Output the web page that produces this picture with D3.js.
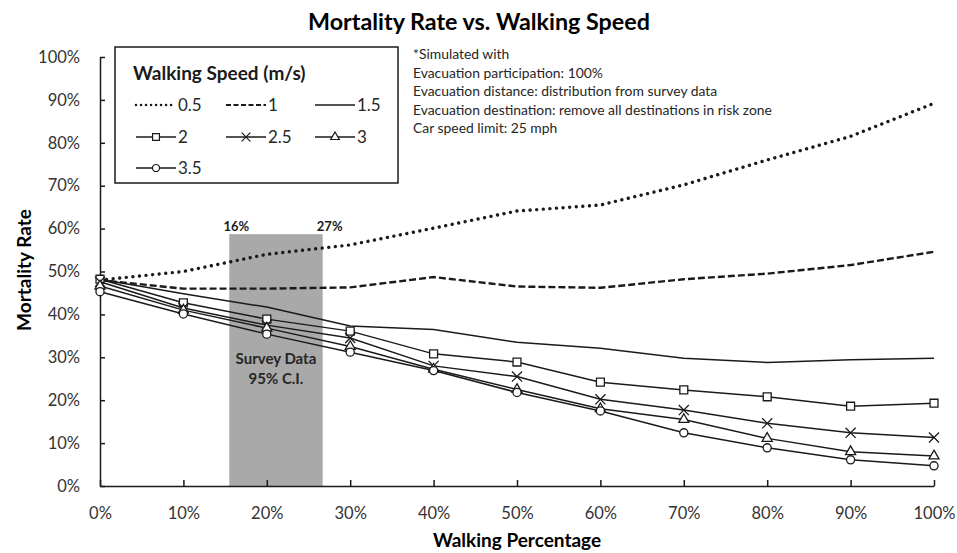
<!DOCTYPE html>
<html>
<head>
<meta charset="utf-8">
<script src="https://cdn.jsdelivr.net/npm/d3@7"></script>
<style>
  body { margin: 0; background: #fff; }
  svg { display: block; font-family: Lato, "Open Sans", sans-serif; }
</style>
</head>
<body>
<div id="viz"></div>
<script>
// walking percentage (x)
var walkPct = [0, 10, 20, 30, 40, 50, 60, 70, 80, 90, 100];

// mortality rate (%) per walking speed (m/s)
var speeds = ["0.5", "1", "1.5", "2", "2.5", "3", "3.5"];
var rate05 = [48.0, 50.0, 54.0, 56.2, 60.1, 64.1, 65.5, 70.2, 76.0, 81.5, 89.2];
var rate10 = [48.0, 46.0, 46.0, 46.3, 48.7, 46.5, 46.2, 48.2, 49.5, 51.5, 54.6];
var rate15 = [48.2, 44.8, 41.7, 37.3, 36.5, 33.5, 32.1, 29.8, 28.8, 29.4, 29.8];
var rate20 = [48.2, 42.7, 38.9, 36.1, 30.8, 28.9, 24.2, 22.4, 20.8, 18.6, 19.3];
var rate25 = [47.6, 41.5, 37.5, 34.5, 28.0, 25.5, 20.2, 17.7, 14.6, 12.4, 11.3];
var rate30 = [46.6, 41.0, 36.8, 32.5, 27.2, 22.5, 18.0, 15.5, 11.1, 8.0, 7.0];
var rate35 = [45.3, 40.1, 35.4, 31.2, 26.9, 21.8, 17.5, 12.4, 8.9, 6.1, 4.7];

// survey data 95% confidence interval (walking %), and top of band
var ciRange = [15.5, 26.7];
var ciTop = 58.7;
var ciLabels = ["16%", "27%"];

var yTicks = [0, 10, 20, 30, 40, 50, 60, 70, 80, 90, 100];

var notes = [
  "*Simulated with",
  "Evacuation participation: 100%",
  "Evacuation distance: distribution from survey data",
  "Evacuation destination: remove all destinations in risk zone",
  "Car speed limit: 25 mph"
];

var rates = [rate05, rate10, rate15, rate20, rate25, rate30, rate35];

var w = 957, h = 553;
var ink = '#1a1a1a';

var styles = {
  "0.5": { dash: '0.01 6.6', width: 3.4, cap: 'round', marker: null, legDash: '0.01 5', legW: 2.6 },
  "1":   { dash: '7 3', width: 2.4, cap: 'butt', marker: null, legDash: '5 2.5', legW: 1.8 },
  "1.5": { dash: null, width: 1.5, cap: 'butt', marker: null, legW: 1.3 },
  "2":   { dash: null, width: 1.5, cap: 'butt', marker: d3.symbolSquare2, size: 80, legW: 1.3 },
  "2.5": { dash: null, width: 1.5, cap: 'butt', marker: d3.symbolTimes, size: 68, legW: 1.3 },
  "3":   { dash: null, width: 1.5, cap: 'butt', marker: d3.symbolTriangle2, size: 72, legW: 1.3 },
  "3.5": { dash: null, width: 1.5, cap: 'butt', marker: d3.symbolCircle, size: 52, legW: 1.3 }
};

var svg = d3.select('#viz')
            .append('svg')
            .attr('width', w)
            .attr('height', h);

var x = d3.scaleLinear().domain([0, 100]).range([100, 934]);
var y = d3.scaleLinear().domain([0, 100]).range([486, 57]);

// CI band
svg.append('rect')
   .attr('x', x(ciRange[0]))
   .attr('y', y(ciTop))
   .attr('width', x(ciRange[1]) - x(ciRange[0]))
   .attr('height', y(0) - y(ciTop))
   .attr('fill', '#a9a9a9');

svg.selectAll('.ci-label')
   .data(ciRange)
   .enter()
   .append('text')
     .attr('class', 'ci-label')
     .attr('x', d => x(d) + 7)
     .attr('y', y(ciTop) - 3)
     .attr('text-anchor', 'middle')
     .style('font-size', '13px')
     .style('font-weight', 'bold')
     .attr('fill', ink)
     .text((d, i) => ciLabels[i]);

var midCI = x((ciRange[0] + ciRange[1]) / 2);
svg.append('text')
   .attr('x', midCI).attr('y', 364)
   .attr('text-anchor', 'middle')
   .style('font-size', '15px').style('font-weight', 'bold')
   .attr('fill', '#262626')
   .text('Survey Data');
svg.append('text')
   .attr('x', midCI).attr('y', 384)
   .attr('text-anchor', 'middle')
   .style('font-size', '15px').style('font-weight', 'bold')
   .attr('fill', '#262626')
   .text('95% C.I.');

// axes
var xAxis = d3.axisBottom(x)
              .tickValues(walkPct)
              .tickFormat(d => d + '%')
              .tickSizeInner(-6)
              .tickSizeOuter(0)
              .tickPadding(21);

var yAxis = d3.axisLeft(y)
              .tickValues(yTicks)
              .tickFormat(d => d + '%')
              .tickSizeInner(-5)
              .tickSizeOuter(0)
              .tickPadding(20);

var gx = svg.append('g')
            .attr('transform', 'translate(0,' + y(0) + ')')
            .call(xAxis);
var gy = svg.append('g')
            .attr('transform', 'translate(' + x(0) + ',0)')
            .call(yAxis);

[gx, gy].forEach(function(g) {
  g.select('.domain').attr('stroke', ink).attr('stroke-width', 1.5);
  g.selectAll('.tick line').attr('stroke', ink).attr('stroke-width', 1.5);
  g.selectAll('.tick text')
   .attr('fill', '#333')
   .style('font-size', '16.5px')
   .style('font-family', 'Lato, sans-serif');
});

// lines
var line = d3.line()
             .x((d, i) => x(walkPct[i]))
             .y(d => y(d));

var series = svg.selectAll('.series')
                .data(speeds)
                .enter()
                .append('g')
                .attr('class', 'series');

series.append('path')
      .attr('d', (d, i) => line(rates[i]))
      .attr('fill', 'none')
      .attr('stroke', ink)
      .attr('stroke-width', d => styles[d].width)
      .attr('stroke-dasharray', d => styles[d].dash)
      .attr('stroke-linecap', d => styles[d].cap);

series.each(function(s, si) {
  var st = styles[s];
  if (!st.marker) return;
  d3.select(this).selectAll('path.mk')
    .data(rates[si])
    .enter()
    .append('path')
      .attr('class', 'mk')
      .attr('transform', (d, i) => 'translate(' + x(walkPct[i]) + ',' + y(d) + ')')
      .attr('d', d3.symbol().type(st.marker).size(st.size))
      .attr('fill', st.marker === d3.symbolTimes ? 'none' : '#fff')
      .attr('stroke', ink)
      .attr('stroke-width', 1.3);
});

// legend
var lg = svg.append('g');
lg.append('rect')
  .attr('x', 115).attr('y', 47)
  .attr('width', 283).attr('height', 136)
  .attr('fill', '#fff')
  .attr('stroke', ink)
  .attr('stroke-width', 1.5);

lg.append('text')
  .attr('x', 133).attr('y', 80)
  .style('font-size', '19px').style('font-weight', 'bold')
  .attr('fill', ink)
  .text('Walking Speed (m/s)');

var legX = [136, 226, 315];
var legY = [105, 137, 168];

var items = lg.selectAll('.legend-item')
              .data(speeds)
              .enter()
              .append('g')
              .attr('class', 'legend-item')
              .attr('transform', (d, i) => 'translate(' + legX[i % 3] + ',' + legY[Math.floor(i / 3)] + ')');

items.append('line')
     .attr('x1', 0).attr('x2', 40)
     .attr('y1', 0).attr('y2', 0)
     .attr('stroke', ink)
     .attr('stroke-width', d => styles[d].legW)
     .attr('stroke-dasharray', d => styles[d].legDash || null)
     .attr('stroke-linecap', d => styles[d].cap);

items.filter(d => styles[d].marker)
     .append('path')
     .attr('transform', 'translate(20,0)')
     .attr('d', d => d3.symbol().type(styles[d].marker).size(styles[d].size * 0.75)())
     .attr('fill', d => styles[d].marker === d3.symbolTimes ? 'none' : '#fff')
     .attr('stroke', ink)
     .attr('stroke-width', 1.2);

items.append('text')
     .attr('x', 42).attr('y', 6)
     .style('font-size', '17px')
     .attr('fill', '#262626')
     .text(d => d);

// notes
svg.selectAll('.note')
   .data(notes)
   .enter()
   .append('text')
     .attr('class', 'note')
     .attr('x', 413)
     .attr('y', (d, i) => 59 + i * 18.6)
     .style('font-size', '13.9px')
     .attr('fill', '#262626')
     .text(d => d);

// titles
svg.append('text')
   .attr('x', 479).attr('y', 30)
   .attr('text-anchor', 'middle')
   .style('font-size', '23.3px').style('font-weight', 'bold')
   .attr('fill', '#000')
   .text('Mortality Rate vs. Walking Speed');

svg.append('text')
   .attr('x', 517).attr('y', 547)
   .attr('text-anchor', 'middle')
   .style('font-size', '19px').style('font-weight', 'bold')
   .attr('fill', '#000')
   .text('Walking Percentage');

svg.append('text')
   .attr('transform', 'translate(31,270) rotate(-90)')
   .attr('text-anchor', 'middle')
   .style('font-size', '19px').style('font-weight', 'bold')
   .attr('fill', '#000')
   .text('Mortality Rate');
</script>
</body>
</html>
